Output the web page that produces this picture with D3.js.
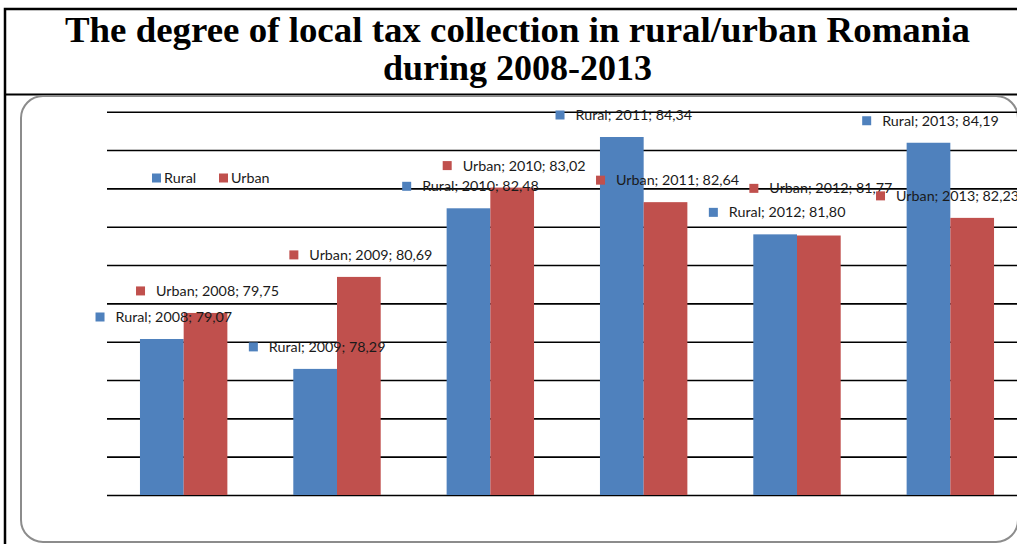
<!DOCTYPE html>
<html>
<head>
<meta charset="utf-8">
<script src="https://cdn.jsdelivr.net/npm/d3@7"></script>
<style>
  body { margin: 0; background: #fff; overflow: hidden; }
  svg { display: block; }
</style>
</head>
<body>
<svg id="chart" width="1017" height="544"></svg>
<script>
// Local tax collection degree (%), rural vs urban, 2008-2013
const years = ["2008", "2009", "2010", "2011", "2012", "2013"];
const seriesNames = ["Rural", "Urban"];
const ruralValues = [79.07, 78.29, 82.48, 84.34, 81.80, 84.19];
const urbanValues = [79.75, 80.69, 83.02, 82.64, 81.77, 82.23];
const gridTicks = [75, 76, 77, 78, 79, 80, 81, 82, 83, 84, 85];
const titleLines = [
  "The degree of local tax collection in rural/urban Romania",
  "during 2008-2013"
];

const seriesValues = { Rural: ruralValues, Urban: urbanValues };
const colors = { Rural: "#4F81BD", Urban: "#C0504D" };
const labelFont = "Lato, 'Open Sans', sans-serif";
const labelSize = 14.3;

const svg = d3.select("#chart");

// Outer frame with title cell
svg.append("rect")
  .attr("x", 5).attr("y", 9).attr("width", 1100).attr("height", 600)
  .attr("fill", "none").attr("stroke", "#000").attr("stroke-width", 2.5);
svg.append("line")
  .attr("x1", 5).attr("x2", 1100).attr("y1", 94.5).attr("y2", 94.5)
  .attr("stroke", "#000").attr("stroke-width", 2);

const title = svg.append("text")
  .attr("text-anchor", "middle")
  .attr("font-family", "'Liberation Serif', 'DejaVu Serif', serif")
  .attr("font-weight", "bold")
  .attr("font-size", 36)
  .attr("fill", "#000");
title.selectAll("tspan").data(titleLines).join("tspan")
  .attr("x", 517.5)
  .attr("y", (d, i) => 42 + i * 38)
  .attr("textLength", (d, i) => i === 0 ? 905 : null)
  .attr("lengthAdjust", "spacingAndGlyphs")
  .text(d => d);

// Chart area with rounded corners
svg.append("rect")
  .attr("x", 21).attr("y", 96).attr("width", 997).attr("height", 446)
  .attr("rx", 22).attr("ry", 22)
  .attr("fill", "#fff").attr("stroke", "#8c8c8c").attr("stroke-width", 2);

// Scales
const x0 = d3.scaleBand().domain(years).range([107, 1027])
  .paddingInner(0.43).paddingOuter(0.215);
const x1 = d3.scaleBand().domain(seriesNames).range([0, x0.bandwidth()]);
const y = d3.scaleLinear().domain([75, 85]).range([495, 111.7]);

// Horizontal gridlines
const grid = svg.append("g")
  .attr("transform", `translate(107,0)`)
  .call(d3.axisLeft(y).tickValues(gridTicks).tickSize(-920).tickFormat(""));
grid.select(".domain").remove();
grid.selectAll(".tick line").attr("stroke", "#000").attr("stroke-width", 1.6);

// Bars
const plot = svg.append("g");
seriesNames.forEach(s => {
  plot.selectAll(null)
    .data(years.map((yr, i) => ({ year: yr, value: seriesValues[s][i] })))
    .join("rect")
    .attr("x", d => x0(d.year) + x1(s))
    .attr("y", d => y(d.value))
    .attr("width", x1.bandwidth())
    .attr("height", d => y(75) - y(d.value))
    .attr("fill", colors[s]);
});

// Data labels: legend key + "Series; Year; Value", centred above each bar
const fmt = v => v.toFixed(2).replace(".", ",");
const labelLayer = svg.append("g");
const placed = [];
const rightLimit = 1019;
seriesNames.forEach(s => {
  years.forEach((yr, i) => {
    const v = seriesValues[s][i];
    const g = labelLayer.append("g");
    const t = g.append("text")
      .attr("x", 20).attr("dy", "0.35em")
      .attr("font-family", labelFont).attr("font-size", labelSize)
      .attr("fill", "#1a1a1a")
      .text(`${s}; ${yr}; ${fmt(v)}`);
    g.append("rect")
      .attr("x", 0).attr("y", -4.5).attr("width", 9).attr("height", 9)
      .attr("fill", colors[s]);
    const tw = t.node().getComputedTextLength();
    const w = 20 + tw;
    const cx = x0(yr) + x1(s) + x1.bandwidth() / 2;
    let left = cx - w / 2 + 2;
    if (left + w > rightLimit) left = rightLimit - w;
    let cy = y(v) - 22;
    // lift a label that collides with the other label of the same year
    placed.filter(p => p.year === yr).forEach(p => {
      const hOverlap = left < p.left + p.w && left + w > p.left;
      if (hOverlap && Math.abs(cy - p.cy) < 16) cy = p.cy - 24;
    });
    placed.push({ year: yr, left, w, cy });
    g.attr("transform", `translate(${left},${cy})`);
  });
});

// Legend
const legend = svg.append("g").attr("transform", "translate(152,178)");
const legendX = { Rural: 0, Urban: 67 };
seriesNames.forEach(s => {
  const lg = legend.append("g").attr("transform", `translate(${legendX[s]},0)`);
  lg.append("rect").attr("x", 0).attr("y", -4.5).attr("width", 9).attr("height", 9)
    .attr("fill", colors[s]);
  lg.append("text").attr("x", 12).attr("dy", "0.35em")
    .attr("font-family", labelFont).attr("font-size", labelSize).attr("fill", "#1a1a1a")
    .text(s);
});
</script>
</body>
</html>
